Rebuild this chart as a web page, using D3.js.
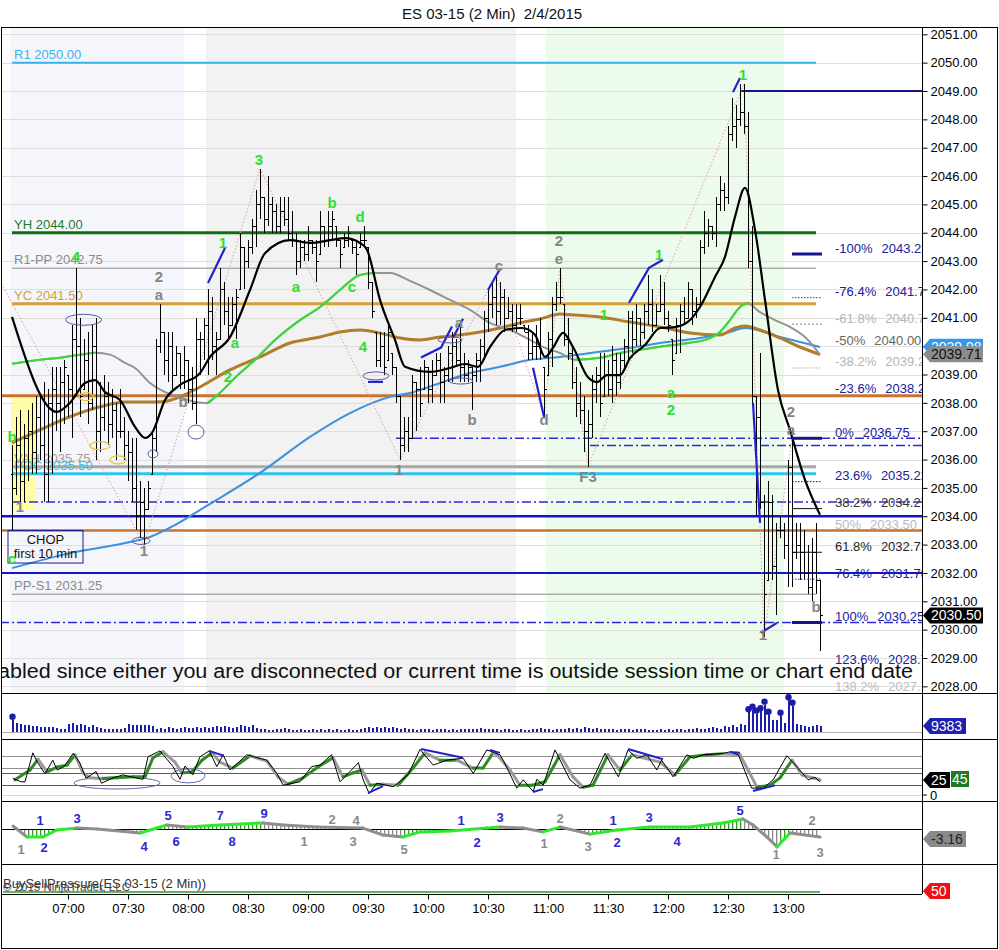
<!DOCTYPE html>
<html><head><meta charset="utf-8">
<script src="https://cdn.jsdelivr.net/npm/d3@7"></script>
<style>
body{margin:0;background:#fff;}
svg{display:block;font-family:"Liberation Sans",Arial,sans-serif;}
</style></head><body>
<svg id="c" width="999" height="950"></svg>
<script>
// ---------------- DATA ----------------
const chartTitle = "ES 03-15 (2 Min)\u00a0\u00a02/4/2015";
const firstBarTime = "06:32", barMinutes = 2, firstOpen = 2035.5;
const timeTicks = ["07:00","07:30","08:00","08:30","09:00","09:30","10:00","10:30","11:00","11:30","12:00","12:30","13:00"];
const priceTicks = [2028,2029,2030,2031,2032,2033,2034,2035,2036,2037,2038,2039,2040,2041,2042,2043,2044,2045,2046,2047,2048,2049,2050,2051];

const barHigh = [
2036.5,2037.5,2037.75,2037.25,2037.75,2038,2038.25,2038.25,2038.75,2038.5,
2039.25,2039.25,2039.25,2039.5,2039,2040.75,2042.75,2041,2040.25,2040.5,
2040.75,2041,2038.75,2039,2038.75,2038.5,2038,2038.5,2037.5,2037,
2036.75,2036.75,2035.25,2035,2035.25,2037,2040.25,2041.5,2040.5,2040.5,
2040.5,2040,2039.75,2040,2039.5,2039.25,2041,2040.5,2041,2042,
2041.75,2040.5,2042.75,2042.25,2041.75,2041.75,2042,2044,2043.5,2043.75,
2044.5,2045.5,2046.25,2045.25,2046,2045.25,2045,2045.25,2045.25,2045.25,
2044.75,2044,2043.75,2043.75,2044.25,2043.75,2043.75,2044.75,2044.25,2044.75,
2044.75,2044.25,2043.75,2044,2044.25,2043.75,2043.75,2044,2044.25,2043.5,
2042.25,2040.5,2040.5,2040.5,2040.75,2039.75,2039.25,2038.25,2037.5,2037.5,
2039,2038.75,2039.25,2039.5,2039.25,2039.5,2039.75,2039.75,2039.25,2040,
2040.5,2040.25,2040.75,2039.75,2039.5,2039.25,2039.75,2040.25,2041.25,2042,
2042.25,2042.5,2042.25,2042,2041.75,2041.5,2041.5,2041.5,2040.75,2040.75,
2040.5,2040.75,2041,2039.25,2040.5,2041.75,2042.25,2042.75,2041.5,2041,
2040,2039.25,2038.75,2038.25,2037.75,2039,2039.25,2039.75,2039.75,2039.5,
2040,2039.75,2039.75,2040.25,2041.25,2041.25,2041.5,2041,2041.5,2042.5,
2042,2041.5,2042.5,2042.25,2041.25,2040.25,2041,2041.5,2041.75,2042.25,
2042,2041.75,2043.75,2044.75,2044.5,2044.25,2045.25,2046,2045.75,2047.75,
2048.75,2048.5,2049.25,2049.25,2048.25,2044.25,2038.25,2039.75,2034.75,2035.25,
2034.75,2033.75,2034,2033.75,2036,2036.75,2033.75,2033.75,2033.5,2033,
2033.25,2033.75,2031.75];
const barLow = [
2033.5,2034.75,2034.5,2034.5,2035.25,2035.5,2035.5,2036,2034.5,2034.5,
2035.5,2037,2036.25,2037.25,2037.5,2036.75,2038.25,2037.5,2038.5,2037.25,
2037.75,2036,2036.25,2037,2036.5,2036.75,2036,2036.75,2036,2035.25,
2034.5,2033.5,2033.25,2033,2034.25,2035.5,2036.25,2039.75,2039,2038.75,
2038.5,2039,2038.5,2038.5,2038,2037.75,2037.25,2039,2039.5,2039,
2039.5,2039,2040.25,2040.75,2040.25,2040.75,2040.25,2042,2042,2042.75,
2043.25,2043.5,2044.5,2044,2044.25,2044,2044,2044,2044.25,2043.75,
2043.5,2042.5,2042.75,2043,2043,2043.25,2042.25,2043.25,2043.5,2043.5,
2043.75,2043.5,2042.75,2043.5,2043.5,2043.25,2042.5,2043.5,2043.5,2042,
2041,2039.25,2039.25,2039,2039.5,2039,2038,2036,2036.25,2036.25,
2036.75,2037,2037.5,2038.5,2038,2038,2039,2038,2038,2038.75,
2038.75,2039.25,2038.75,2038.75,2038.75,2037.75,2038.75,2038.75,2039.5,2040.5,
2041,2040.75,2040.75,2040.5,2041,2040.5,2040.5,2040.75,2040.5,2039.5,
2039.5,2039.5,2039.5,2037.5,2039,2039.25,2041.25,2041.5,2040,2039.5,
2038.5,2037.5,2037.25,2036.25,2035.75,2036.75,2038,2037.5,2038.25,2038.25,
2038,2038.25,2038.5,2039.25,2039.5,2039.75,2040,2040,2040.25,2040.75,
2040.5,2040.75,2041.25,2040.75,2040.5,2039,2039.75,2039.75,2040.75,2041,
2040.75,2041,2041.5,2043.25,2043.5,2043.75,2043.5,2044.75,2044.75,2045,
2047.25,2047,2047.75,2047.5,2042.75,2038,2034,2034.25,2029.75,2031.75,
2031.75,2030.5,2033.25,2032.5,2031.5,2031.5,2032.5,2031.75,2031.75,2031.25,
2031,2031.25,2029.25];
const barClose = [
2035,2036.5,2035.25,2036.75,2037,2036.25,2037.5,2036.5,2035.5,2038,
2038.5,2038,2038.75,2039.25,2038.5,2040.25,2040,2038.25,2039.5,2038,
2040,2037,2037.5,2038.25,2037.25,2037.75,2037,2037,2036.5,2036.25,
2035,2034,2034.5,2034.25,2035,2036.75,2040,2040.5,2039.5,2040,
2039,2039.75,2039,2039.5,2038.5,2038,2040.25,2040.25,2040.75,2041.25,
2040,2040.25,2042,2041.25,2040.75,2041.5,2041.75,2043.5,2043,2043.5,
2044.25,2045,2045.25,2044.5,2045,2044.75,2044.25,2044.75,2044.5,2044,
2043.75,2043,2043.5,2043.25,2043.75,2043.5,2043,2044.25,2043.75,2044.25,
2044.5,2043.75,2043.25,2043.75,2044,2043.5,2043.25,2043.75,2043.75,2042.25,
2041.25,2039.5,2040,2039.25,2040.5,2039.25,2038.25,2036.5,2037,2036.75,
2038.75,2038.5,2038,2039.25,2038.5,2039,2039.5,2038.75,2039,2039.75,
2040,2039.5,2039.25,2039,2039.25,2039,2039.5,2040,2041,2041.5,
2041.75,2041.25,2041.75,2041,2041.25,2040.75,2041,2041,2040.5,2039.75,
2040,2040,2039.75,2038.5,2040.25,2041.5,2041.75,2041.75,2040.25,2039.75,
2038.75,2038,2037.75,2037,2037.25,2038.5,2039,2038,2039,2038.5,
2039.5,2038.75,2039.5,2040,2041,2040.25,2041,2040.5,2041.25,2041.5,
2040.75,2041.25,2041.5,2041,2040.75,2039.5,2040.75,2041.25,2041,2042,
2041.25,2041.5,2043.5,2044,2044.25,2044,2045,2045.5,2045.25,2047.5,
2047.75,2048,2048.25,2047.75,2043,2038.25,2037.5,2034.5,2031.25,2034.5,
2032.25,2033.5,2033.5,2033,2035.75,2032.75,2033,2032.75,2032,2031.5,
2032.75,2031.75,2030.5];
const volume = [
19200,14000,13000,11500,10400,9400,8800,7800,7300,7300,
8300,6200,5200,4200,13000,14600,11400,13000,11400,7800,
10400,7800,6200,5200,4200,4200,5200,5200,6200,13000,
11400,10400,11400,10400,11400,9400,5200,6200,4200,7800,
6200,5200,6200,7800,6200,6200,7800,6200,7300,6200,
7800,9400,7300,9400,7800,6200,7300,10400,9400,7800,
10400,6200,5200,4200,3100,3100,4200,5200,6200,4200,
3100,3100,4200,3100,3100,4200,3100,4200,3100,4200,
3100,4200,3100,3100,4200,3100,3100,5200,6200,7300,
6200,7300,6200,7300,6200,7300,6200,5200,6200,4200,
4200,3100,4200,4200,5200,3100,4200,4200,4200,3100,
4200,3100,4200,4200,5200,4200,5200,6200,5200,4200,
4200,4200,3100,4200,4200,3100,3100,4200,3100,3100,
5200,4200,6200,4200,5200,3100,4200,5200,4200,6200,
5200,6200,5200,7300,6200,5200,6200,4200,5200,4200,
4200,3100,4200,5200,4200,3100,4200,4200,5200,3100,
3100,3100,4200,3100,5200,3100,4200,4200,3100,5200,
4200,6200,5200,4200,6200,8300,6200,5200,9400,8300,
11400,8300,12500,10400,30800,34900,28700,32400,42700,27000,
19000,19000,25500,14000,49600,41000,12500,10400,9400,8300,
9400,10400,9383];
const volDotBars = [0,184,185,186,187,188,189,192,194,195];

// moving averages: [bar index, price]
const fastMA = [[0,2041.03],[11.25,2037.68],[14.5,2038.0],[18.25,2038.7],[20.75,2038.8],[23.25,2038.38],[27,2038.1],[30.75,2037.15],[33.25,2036.76],[35,2036.94],[38.25,2038.1],[42,2038.63],[47,2039.05],[49.5,2039.62],[54.5,2040.32],[59.5,2041.98],[63.25,2043.28],[69.5,2043.74],[74.5,2043.64],[79.5,2043.74],[83.25,2043.81],[87,2043.64],[88.75,2043.4],[92,2041.63],[95.75,2040.22],[98.25,2039.27],[104.5,2039.09],[109.5,2039.23],[113.25,2039.37],[116.5,2039.27],[119.5,2039.97],[123.25,2040.57],[127.5,2040.64],[130.75,2040.4],[133.25,2039.62],[135.25,2039.94],[137.75,2040.47],[140.25,2039.97],[144,2038.9],[146.25,2038.73],[148.75,2038.98],[152,2038.98],[154.5,2039.58],[158.25,2040.04],[162,2040.64],[165.75,2040.67],[169.5,2040.92],[172,2041.38],[175.75,2042.44],[178.25,2043.15],[180.75,2044.56],[183.25,2045.58],[185.75,2044.1],[188.25,2041.63],[191.5,2038.45],[194.5,2037.04],[198.25,2035.28],[202,2034.05]];
const midMA = [[0,2039.38],[7,2039.52],[12,2039.59],[17,2039.7],[20.75,2039.77],[24.5,2039.7],[28.25,2039.41],[30.75,2039.23],[34.5,2038.7],[38.25,2038.38],[42,2038.2],[45.75,2038.03],[48.75,2037.99],[50.75,2038.2],[57,2039.05],[60.75,2039.52],[65.75,2040.22],[72,2040.92],[77,2041.38],[82,2041.98],[87,2042.51],[90.75,2042.58],[94.5,2042.58],[99.5,2042.3],[104.5,2041.98],[109.5,2041.63],[114.5,2041.28],[119.5,2040.82],[124.5,2040.57],[129.5,2040.22],[133.25,2039.94],[137,2039.76],[140.75,2039.52],[147,2039.59],[152,2039.76],[157,2039.87],[162,2039.98],[169.5,2040.12],[173.25,2040.22],[177,2040.5],[179.5,2040.92],[182,2041.38],[183.75,2041.52],[187,2041.2],[190.75,2040.92],[194.5,2040.68],[198.25,2040.32],[202,2039.7]];
const midMARising = [[0,20.75],[48.75,90.75],[140.75,183.75]];
const slowMA = [[0,2036.59],[7,2037.05],[14.5,2037.51],[22,2037.86],[28.25,2038.03],[34.5,2038.03],[38.25,2038.05],[42,2038.21],[47,2038.56],[54.5,2039.16],[62,2039.62],[69.5,2040.11],[77,2040.32],[82,2040.5],[87,2040.57],[92,2040.46],[97,2040.29],[102,2040.22],[107,2040.32],[112,2040.39],[117,2040.5],[122,2040.64],[127,2040.82],[132,2040.96],[137,2041.13],[140.75,2041.1],[147,2041.03],[154.5,2040.85],[162,2040.68],[169.5,2040.46],[177,2040.39],[180.75,2040.64],[183.25,2040.71],[187,2040.57],[192,2040.29],[197,2039.97],[202,2039.7]];
const vwapLine = [[0,2032.17],[14.5,2032.7],[29.5,2033.09],[34.5,2033.27],[40.75,2033.69],[48.25,2034.33],[62,2035.53],[74.5,2036.8],[84.5,2037.64],[94.5,2038.21],[99.5,2038.35],[107,2038.7],[114.5,2039.05],[122,2039.27],[129.5,2039.52],[137,2039.62],[147,2039.8],[154.5,2039.94],[162,2040.11],[172,2040.29],[179.5,2040.5],[183.25,2040.64],[192,2040.32],[202,2039.97]];

// levels
const namedLevelText = ["R1 2050.00","YH 2044.00","R1-PP 2042.75","YC 2041.50","VAH 2035.75","POC 2035.50","PP-S1 2031.25"];
const namedLevelValue = [2050.00,2044.00,2042.75,2041.50,2035.75,2035.50,2031.25];
const namedLevelSpan = ["06:32","13:14"];
const srValue = [2038.25,2036.75,2036.50,2034.50,2034.00,2033.50,2032.00,2030.25,2049.00];
const srStart = ["06:26","09:44","11:21","06:32","06:26","06:26","06:26","06:26","12:36"];
const srEnd = "14:07";

const fibPct = ["-100%","-76.4%","-61.8%","-50%","-38.2%","-23.6%","0%","23.6%","38.2%","50%","61.8%","76.4%","100%","123.6%","138.2%"];
const fibValue = [2043.25,2041.71,2040.77,2040.00,2039.23,2038.28,2036.75,2035.22,2034.27,2033.50,2032.73,2031.78,2030.25,2028.72,2027.77];
const fibSpan = ["13:02","13:17"];

const zigzag = [[-3,2042.3],[33,2033.0],[62,2046.25],[97,2036.0],[121,2042.5],[133,2037.5],[137,2042.75],[144,2035.75],[183,2049.25],[188,2029.75],[195,2036.75]];
const greenLabels = [["4",16,2043.15],["1",52.75,2043.64],["3",61.75,2046.57],["a",55.75,2040.11],["2",54,2038.91],["a",71,2042.09],["b",80,2045.05],["d",87,2044.56],["c",85,2042.09],["4",87.75,2039.98],["b",0,2036.8],["1",148,2041.1],["1",161.75,2043.22],["1",182.75,2049.57],["a",164.75,2038.36],["2",164.75,2037.76],["c",0,2032.5]];
const grayLabels = [["2",36.75,2042.45],["a",36.75,2041.82],["b",42.75,2038.05],["1",33,2032.8],["1",2,2034.33],["1",96.75,2035.63],["b",115,2037.4],["a",111.75,2040.82],["c",121.75,2042.83],["d",133,2037.4],["2",136.75,2043.71],["e",136.75,2043.07],["F3",144,2035.38],["2",194.75,2037.68],["a",194.75,2037.04],["b",201,2030.8],["1",187.75,2029.82]];
const trendLines = [[[49,2042.23],[53.25,2043.46]],[[102.25,2039.6],[107.25,2039.95],[110,2040.69]],[[110.25,2040.3],[112.75,2040.97]],[[119,2041.98],[122,2042.72]],[[130.25,2039.24],[133,2037.51]],[[154.25,2041.53],[159.25,2042.76],[162.75,2043.05]],[[180.25,2048.96],[182,2049.46]],[[185.25,2038.0],[187,2033.77]],[[187.25,2029.89],[191.25,2030.24]],[[89,2038.74],[92.75,2038.74]]];
const swingEllipses = [[17.9,2040.93,18,5.5],[35.25,2036.2,5,4],[46,2036.97,8,7],[32.25,2033.13,9,3.5],[91,2038.95,13,4],[109.5,2040.22,12,3],[112.25,2038.77,12,3]];
const yellowEllipses = [[18.5,2038.22,7,4],[22,2036.49,10,4],[26.5,2035.99,8,4]];
const chopBox = {bars:[-1,17.75], prices:[2033.5,2032.35], lines:["CHOP","first 10 min"]};
const openRange = {bars:[0,6], prices:[2038.21,2034.22]};
const sessions = [["06:31","07:58"],["08:09","10:44"],["10:59","12:58"]];
const messageText = "abled since either you are disconnected or current time is outside session time or chart end date";
const lastPrices = [2039.98, 2039.71, 2030.50];

// stochastics [bar, value]
const stochLevels = [80,55,45,20,0];
const stochFast = [[0.2,34],[2.2,27],[3.25,27],[5.2,86],[6.3,68],[8.25,43],[10.2,71],[11.3,51],[13,58],[15.3,85],[17,65],[18.5,34],[21,48],[22.4,24],[25.25,35],[27.75,41],[30.25,36],[32.75,32],[34,78],[37,90],[40.25,58],[42,32],[43.25,59],[45.2,41],[47,78],[49.3,90],[51.2,58],[52.8,82],[54.5,51],[58.7,82],[63.7,71],[66.2,44],[67.8,20],[72,27],[74.9,58],[77,61],[79.9,82],[82,27],[83.7,41],[86.6,66],[87.8,31],[89.3,3],[91.2,24],[95.3,17],[99,41],[102,93],[105.3,61],[108.7,71],[112.8,75],[115.3,44],[118.7,92],[122,82],[122.8,71],[126.2,14],[127.8,31],[130.3,7],[131.2,32],[132.8,20],[135.75,92],[139.5,31],[142,14],[144.5,20],[148.25,85],[151.6,37],[154,92],[156.2,75],[158.7,82],[161.2,51],[162.4,71],[165.3,37],[168.7,82],[170.3,75],[172.8,82],[177.8,85],[179.5,88],[181.6,82],[184.9,14],[187.8,14],[190.3,31],[193.7,80],[196.2,58],[199,31],[200.75,36],[202,27]];
const stochSlow = [[0.75,31],[4.5,51],[6.5,73],[8.75,47],[11.25,57],[13.75,61],[15.75,82],[17.75,45],[19.5,35],[22.75,33],[26.25,35],[30.25,37],[33.25,37],[35.25,76],[37.75,88],[40.75,67],[42.5,45],[45,47],[47.5,71],[50,86],[52,67],[55.25,55],[59.5,80],[63.75,69],[66.5,37],[69,22],[72.75,35],[76.5,57],[80.25,76],[82.75,37],[85.25,45],[87.5,51],[89.5,20],[92.75,22],[96.5,20],[100.25,55],[103.25,86],[107,71],[111.25,71],[115.25,55],[117.75,55],[120.25,86],[121.25,82],[124.5,51],[127,20],[130,20],[133.25,27],[137,82],[140.25,37],[142.75,16],[145.25,20],[149,82],[152,51],[155,82],[157.75,76],[162,67],[165.75,41],[169.5,78],[173.75,82],[177.75,84],[182,82],[184,51],[186.25,16],[189.5,20],[192,35],[195,71],[197.5,41],[200.25,35],[202,31]];
const stochDivergence = [[[49.25,90],[53,80]],[[89,4],[92.75,18]],[[102.25,94],[112.75,76]],[[119.5,92],[122,86]],[[130.25,6],[132.75,12]],[[154,94],[162.75,73]],[[179.5,88],[182,86]],[[185.25,8],[190.75,20]]];
const stochEllipses = [[26.25,24.5,43,6],[44,39,17,7]];

// momentum oscillator [bar, value]
const macdLine = [[0.25,0.94],[3.75,-2.5],[7.75,-2.5],[11.25,-0.3],[16.25,0.3],[21.25,0],[32,-1.25],[36.25,0.3],[38.75,1.25],[43.75,0.6],[52,1.25],[62.75,1.9],[67.75,1.25],[76.25,0.6],[87.75,0.3],[92.75,-1.9],[97.75,-2.5],[102,-0.9],[109.5,-0.6],[118.75,0.3],[122,0.6],[127.75,0.3],[132.75,-0.9],[137,0.6],[144.5,-1.6],[151.25,-0.3],[159.5,0.6],[169.5,0.6],[177.75,1.9],[182.75,3.1],[185.25,1.25],[188.75,-2.5],[191.25,-5.6],[194.5,-1.25],[202,-2.5]];
const waveBlue = [["1",7,2.8],["2",8,-5.9],["3",16.25,3.4],["4",33,-5.6],["5",39,4.1],["6",41,-3.75],["7",52,4.1],["8",55,-3.75],["9",63,5],["1",112.25,2.8],["2",116.25,-4.1],["3",122,3.75],["1",150.25,2.8],["2",151.25,-4.1],["3",159.25,3.75],["4",166.25,-3.75],["5",182,5.9]];
const waveGray = [["1",2.25,-6.25],["1",73,-3.75],["2",80,3.1],["4",86,2.8],["3",85.25,-3.75],["5",98,-6.25],["2",137,3.4],["1",133,-4.4],["3",144,-5.3],["1",191,-8.1],["2",200,2.8],["3",202,-7.2]];
const panelTags = {volume:"9383", stochK:"25", stochD:"45", osc:"-3.16", bsp:"50"};
const bspTitle = "BuySellPressure(ES 03-15 (2 Min))", copyright = "\u00a9 2015 NinjaTrader, LLC";

// ---------------- SCALES ----------------
const svg = d3.select("#c");
const parse = d3.timeParse("%H:%M");
const xT = d3.scaleTime().domain([parse("07:00"), parse("13:00")]).range([68, 788]);
const t0 = parse(firstBarTime);
const bx = i => xT(new Date(t0.getTime() + i * barMinutes * 60000));
const tx = s => xT(parse(s));
const y = d3.scaleLinear().domain([2028, 2051]).range([686.35, 34.3]);
const yVol = d3.scaleLinear().domain([0, 50000]).range([732, 700]);
const ySt = d3.scaleLinear().domain([0, 100]).range([795, 746]);
const yOsc = d3.scaleLinear().domain([-10, 10]).range([861, 797]);

const defs = svg.append("defs");
defs.append("clipPath").attr("id","mainClip").append("rect").attr("x",2).attr("y",27.5).attr("width",920).attr("height",665);
defs.append("clipPath").attr("id","stClip").append("rect").attr("x",2).attr("y",740).attr("width",920).attr("height",61);
defs.append("clipPath").attr("id","oscClip").append("rect").attr("x",2).attr("y",802).attr("width",920).attr("height",62);
function stripe(id, color){
  const p = defs.append("pattern").attr("id",id).attr("patternUnits","userSpaceOnUse").attr("width",4).attr("height",4);
  p.append("rect").attr("x",0).attr("y",0).attr("width",1.3).attr("height",4).attr("fill",color);
}
stripe("stG","#3a9a2a"); stripe("stR","#8c8c8c");

// ---------------- MAIN PANEL ----------------
const main = svg.append("g").attr("clip-path","url(#mainClip)");
const shadeCol = ["#f4f6fb","#f2f2f2","#edfbed"];
sessions.forEach((s,k)=>{
  main.append("rect").attr("x",tx(s[0])).attr("y",27).attr("width",tx(s[1])-tx(s[0])).attr("height",666).attr("fill",shadeCol[k]);
});
priceTicks.forEach(p=>{
  main.append("line").attr("x1",0).attr("x2",922).attr("y1",Math.round(y(p))+0.5).attr("y2",Math.round(y(p))+0.5).attr("stroke","#dedede").attr("stroke-width",1);
});
main.append("rect").attr("x",bx(openRange.bars[0])).attr("y",y(openRange.prices[0])).attr("width",bx(openRange.bars[1])-bx(openRange.bars[0])).attr("height",y(openRange.prices[1])-y(openRange.prices[0])).attr("fill","#ffff99").attr("opacity",0.85);

// named levels
const namedStyle = [["#35b6ea",2,"#3cb4e6"],["#0f6f0f",3,"#2a7a2a"],["#8a8a8a",1,"#8a8a8a"],["#d4a033",3,"#d4a033"],["#a8a8a8",3,"#a0a0a0"],["#2ec4ee",3,"#3cbfe6"],["#8a8a8a",1,"#8a8a8a"]];
namedLevelValue.forEach((v,k)=>{
  main.append("line").attr("x1",tx(namedLevelSpan[0])).attr("x2",tx(namedLevelSpan[1])).attr("y1",y(v)).attr("y2",y(v)).attr("stroke",namedStyle[k][0]).attr("stroke-width",namedStyle[k][1]);
});
const srStyle = [["#c8732f",3,null],["#2a2ad8",1.5,"9,3,2,3"],["#2a2ad8",1.5,"9,3,2,3"],["#2a2ad8",1.5,"9,3,2,3"],["#1414c8",2.5,null],["#c8732f",2.5,null],["#1414c8",2,null],["#2a2ad8",1.5,"9,3,2,3"],["#14148c",2,null]];
srValue.forEach((v,k)=>{
  main.append("line").attr("x1",tx(srStart[k])).attr("x2",tx(srEnd)).attr("y1",y(v)).attr("y2",y(v)).attr("stroke",srStyle[k][0]).attr("stroke-width",srStyle[k][1]).attr("stroke-dasharray",srStyle[k][2]);
});
namedLevelValue.forEach((v,k)=>{
  main.append("text").attr("x",14).attr("y",y(v)-4).attr("font-size",13).attr("fill",namedStyle[k][2]).text(namedLevelText[k]);
});

// moving averages
const ln = d3.line().x(d=>bx(d[0])).y(d=>y(d[1])).curve(d3.curveMonotoneX);
main.append("path").attr("d",ln(vwapLine)).attr("fill","none").attr("stroke","#3d8fe0").attr("stroke-width",2);
main.append("path").attr("d",ln(slowMA)).attr("fill","none").attr("stroke","#b07d2a").attr("stroke-width",3);
main.append("path").attr("d",ln(midMA)).attr("fill","none").attr("stroke","#939393").attr("stroke-width",2);
midMARising.forEach(r=>{
  main.append("path").attr("d",ln(midMA.filter(d=>d[0]>=r[0]&&d[0]<=r[1]))).attr("fill","none").attr("stroke","#33dd33").attr("stroke-width",2);
});

// zigzag
main.append("path").attr("d",d3.line().x(d=>bx(d[0])).y(d=>y(d[1]))(zigzag)).attr("fill","none").attr("stroke","#e59a9a").attr("stroke-width",1).attr("stroke-dasharray","1.5,2");

// OHLC bars
const bars = main.append("g").attr("stroke","#000").attr("stroke-width",1).attr("shape-rendering","crispEdges");
barHigh.forEach((h,i)=>{
  const l = barLow[i], c = barClose[i];
  const o = Math.max(l, Math.min(h, i===0 ? firstOpen : barClose[i-1]));
  const xx = Math.round(bx(i)) + 0.5;
  bars.append("line").attr("x1",xx).attr("x2",xx).attr("y1",y(h)).attr("y2",y(l));
  bars.append("line").attr("x1",xx-2).attr("x2",xx).attr("y1",Math.round(y(o))+0.5).attr("y2",Math.round(y(o))+0.5);
  bars.append("line").attr("x1",xx).attr("x2",xx+2).attr("y1",Math.round(y(c))+0.5).attr("y2",Math.round(y(c))+0.5);
});

main.append("path").attr("d",ln(fastMA)).attr("fill","none").attr("stroke","#000").attr("stroke-width",2.2);

// annotations
const lnL = d3.line().x(d=>bx(d[0])).y(d=>y(d[1]));
trendLines.forEach(t=>{
  main.append("path").attr("d",lnL(t)).attr("fill","none").attr("stroke","#2222cc").attr("stroke-width",2.2);
});
swingEllipses.forEach(e=>{
  main.append("ellipse").attr("cx",bx(e[0])).attr("cy",y(e[1])).attr("rx",e[2]).attr("ry",e[3]).attr("fill","none").attr("stroke","#5b5b9e").attr("stroke-width",1);
});
yellowEllipses.forEach(e=>{
  main.append("ellipse").attr("cx",bx(e[0])).attr("cy",y(e[1])).attr("rx",e[2]).attr("ry",e[3]).attr("fill","none").attr("stroke","#e6c83a").attr("stroke-width",1.3);
});
main.append("rect").attr("x",bx(chopBox.bars[0])).attr("y",y(chopBox.prices[0])).attr("width",bx(chopBox.bars[1])-bx(chopBox.bars[0])).attr("height",y(chopBox.prices[1])-y(chopBox.prices[0])).attr("fill","none").attr("stroke","#1c1c8c").attr("stroke-width",1);
chopBox.lines.forEach((t,k)=>{
  main.append("text").attr("x",(bx(chopBox.bars[0])+bx(chopBox.bars[1]))/2).attr("y",y(chopBox.prices[0])+14+k*14).attr("text-anchor","middle").attr("font-size",13).attr("fill","#111").text(t);
});
greenLabels.forEach(g=>{
  main.append("text").attr("x",bx(g[1])).attr("y",y(g[2])).attr("dy","0.35em").attr("text-anchor","middle").attr("font-size",15).attr("font-weight","bold").attr("fill","#2ee02e").text(g[0]);
});
grayLabels.forEach(g=>{
  main.append("text").attr("x",bx(g[1])).attr("y",y(g[2])).attr("dy","0.35em").attr("text-anchor","middle").attr("font-size",15).attr("font-weight","bold").attr("fill","#858585").text(g[0]);
});

// fib short lines + labels
const fibLineStyle = [["#14148c",3,null],["#2a2ad8",1,"1.5,1.5"],["#aaaaaa",1.5,"2,2"],null,["#aaaaaa",1,"1.5,1.5"],null,["#14148c",3,null],["#111",1,"1.5,1.5"],["#111",1,null],null,["#111",1,null],["#2a2ad8",1,"1.5,1.5"],["#14148c",3,null],null,null];
const fibColor = ["#20209a","#20209a","#b4b4b4","#666","#b4b4b4","#20209a","#20209a","#20209a","#333","#bbbbbb","#222","#20209a","#20209a","#20209a","#bbbbbb"];
fibValue.forEach((v,k)=>{
  const st = fibLineStyle[k];
  if(st) main.append("line").attr("x1",tx(fibSpan[0])).attr("x2",tx(fibSpan[1])).attr("y1",y(v)).attr("y2",y(v)).attr("stroke",st[0]).attr("stroke-width",st[1]).attr("stroke-dasharray",st[2]);
  const t1 = main.append("text").attr("x",835).attr("y",y(v)-1.5).attr("font-size",13).attr("fill",fibColor[k]).text(fibPct[k]);
  const w = t1.node().getComputedTextLength();
  main.append("text").attr("x",835+w+9).attr("y",y(v)-1.5).attr("font-size",13).attr("fill",fibColor[k]).text(d3.format(".2f")(v));
});

// message
main.append("text").attr("x",-2).attr("y",678).attr("font-size",19.5).attr("fill","#111").attr("textLength",915).attr("lengthAdjust","spacingAndGlyphs").text(messageText);

// ---------------- VOLUME ----------------
svg.append("line").attr("x1",2).attr("x2",922).attr("y1",732.5).attr("y2",732.5).attr("stroke","#b0b0b0");
const vg = svg.append("g").attr("shape-rendering","crispEdges");
volume.forEach((v,i)=>{
  vg.append("rect").attr("x",Math.round(bx(i))-0.5).attr("y",yVol(v)).attr("width",2).attr("height",732-yVol(v)).attr("fill","#1c1ca8");
});
volDotBars.forEach(i=>{
  svg.append("circle").attr("cx",Math.round(bx(i))+0.5).attr("cy",yVol(volume[i])-3).attr("r",3.2).attr("fill","#1c1ca8");
});

// ---------------- STOCHASTICS ----------------
const stColor = ["#909090","#909090","#2a7a2a","#2a7a2a","#d8d8d8"];
stochLevels.forEach((v,k)=>{
  svg.append("line").attr("x1",2).attr("x2",922).attr("y1",Math.round(ySt(v))+0.5).attr("y2",Math.round(ySt(v))+0.5).attr("stroke",stColor[k]).attr("stroke-width",1);
});
const sg = svg.append("g").attr("clip-path","url(#stClip)");
stochEllipses.forEach(e=>{
  sg.append("ellipse").attr("cx",bx(e[0])).attr("cy",ySt(e[1])).attr("rx",e[2]).attr("ry",e[3]).attr("fill","none").attr("stroke","#6a6aa8").attr("stroke-width",1);
});
for(let k=1;k<stochSlow.length;k++){
  const a=stochSlow[k-1], b=stochSlow[k];
  sg.append("line").attr("x1",bx(a[0])).attr("y1",ySt(a[1])).attr("x2",bx(b[0])).attr("y2",ySt(b[1])).attr("stroke",b[1]>=a[1]?"#2f8a24":"#9a9a9a").attr("stroke-width",3).attr("stroke-linecap","round");
}
sg.append("path").attr("d",d3.line().x(d=>bx(d[0])).y(d=>ySt(d[1]))(stochFast)).attr("fill","none").attr("stroke","#000").attr("stroke-width",1);
stochDivergence.forEach(t=>{
  sg.append("path").attr("d",d3.line().x(d=>bx(d[0])).y(d=>ySt(d[1]))(t)).attr("fill","none").attr("stroke","#2222cc").attr("stroke-width",2);
});

// ---------------- OSCILLATOR ----------------
const og = svg.append("g").attr("clip-path","url(#oscClip)");
for(let k=1;k<macdLine.length;k++){
  const a=macdLine[k-1], b=macdLine[k];
  const pts = [[bx(a[0]),yOsc(0)],[bx(a[0]),yOsc(a[1])],[bx(b[0]),yOsc(b[1])],[bx(b[0]),yOsc(0)]];
  og.append("path").attr("d","M"+pts.join("L")+"Z").attr("fill",b[1]>=a[1]?"url(#stG)":"url(#stR)");
}
og.append("line").attr("x1",2).attr("x2",922).attr("y1",yOsc(0)+0.5).attr("y2",yOsc(0)+0.5).attr("stroke","#000").attr("stroke-width",1);
for(let k=1;k<macdLine.length;k++){
  const a=macdLine[k-1], b=macdLine[k];
  og.append("line").attr("x1",bx(a[0])).attr("y1",yOsc(a[1])).attr("x2",bx(b[0])).attr("y2",yOsc(b[1])).attr("stroke",b[1]>=a[1]?"#2ee82e":"#8e8e8e").attr("stroke-width",3).attr("stroke-linecap","round");
}
waveBlue.forEach(w=>{
  og.append("text").attr("x",bx(w[1])).attr("y",yOsc(w[2])).attr("dy","0.35em").attr("text-anchor","middle").attr("font-size",13).attr("font-weight","bold").attr("fill","#2a2ad0").text(w[0]);
});
waveGray.forEach(w=>{
  og.append("text").attr("x",bx(w[1])).attr("y",yOsc(w[2])).attr("dy","0.35em").attr("text-anchor","middle").attr("font-size",13).attr("font-weight","bold").attr("fill","#8a8a8a").text(w[0]);
});

// ---------------- BSP panel ----------------
svg.append("line").attr("x1",3).attr("x2",bx(barHigh.length-1)).attr("y1",892).attr("y2",892).attr("stroke","#2a9a2a").attr("stroke-width",1.5);
svg.append("text").attr("x",3).attr("y",888).attr("font-size",13).attr("fill","#333").text(bspTitle);
svg.append("text").attr("x",3).attr("y",891).attr("font-size",11.5).attr("fill","#444").text(copyright);

// ---------------- FRAME & AXES ----------------
const frame = svg.append("g").attr("stroke","#000").attr("stroke-width",1).attr("shape-rendering","crispEdges");
[27,693,739,801,864].forEach(v=>frame.append("line").attr("x1",1).attr("x2",998).attr("y1",v+0.5).attr("y2",v+0.5));
frame.append("line").attr("x1",1).attr("x2",922).attr("y1",894.5).attr("y2",894.5);
frame.append("line").attr("x1",1).attr("x2",998).attr("y1",948.5).attr("y2",948.5);
frame.append("line").attr("x1",1.5).attr("x2",1.5).attr("y1",27).attr("y2",949);
frame.append("line").attr("x1",997.5).attr("x2",997.5).attr("y1",27).attr("y2",949);
frame.append("line").attr("x1",922.5).attr("x2",922.5).attr("y1",27).attr("y2",894);

const yAxis = svg.append("g").attr("transform","translate(922.5,0)")
  .call(d3.axisRight(y).tickValues(priceTicks).tickFormat(d3.format(".2f")).tickSize(5).tickPadding(3));
yAxis.select(".domain").remove();
yAxis.selectAll("text").attr("font-size",13).attr("font-family","Liberation Sans, Arial, sans-serif").attr("fill","#000");

const xAxis = svg.append("g").attr("transform","translate(0,894.5)")
  .call(d3.axisBottom(xT).tickValues(timeTicks.map(parse)).tickFormat(d3.timeFormat("%H:%M")).tickSize(5).tickPadding(4));
xAxis.select(".domain").remove();
xAxis.selectAll("text").attr("font-size",13).attr("font-family","Liberation Sans, Arial, sans-serif").attr("fill","#000");

svg.append("text").attr("x",402).attr("y",19).attr("font-size",15).attr("fill","#111").text(chartTitle);

// tags
function tag(cy, x2, fill, txt, tcol){
  svg.append("path").attr("d",`M923,${cy} L930,${cy-8} L${x2},${cy-8} L${x2},${cy+8} L930,${cy+8} Z`).attr("fill",fill);
  svg.append("text").attr("x",931).attr("y",cy+5).attr("font-size",14).attr("fill",tcol).text(txt);
}
tag(y(lastPrices[0]), 983, "#3399ee", d3.format(".2f")(lastPrices[0]), "#fff");
tag(y(lastPrices[1]), 983, "#8c8c8c", d3.format(".2f")(lastPrices[1]), "#111");
tag(y(lastPrices[2]), 983, "#000", d3.format(".2f")(lastPrices[2]), "#fff");
tag(yVol(+panelTags.volume), 966, "#2020b0", panelTags.volume, "#fff");
svg.append("line").attr("x1",922).attr("x2",927).attr("y1",ySt(0)).attr("y2",ySt(0)).attr("stroke","#000");
svg.append("text").attr("x",930).attr("y",ySt(0)+5).attr("font-size",13).text("0");
tag(780, 950, "#000", panelTags.stochK, "#fff");
svg.append("rect").attr("x",951).attr("y",771).attr("width",18).attr("height",16).attr("fill","#1e7b1e");
svg.append("text").attr("x",952).attr("y",784).attr("font-size",14).attr("fill","#fff").text(panelTags.stochD);
tag(839, 966, "#8a8a8a", panelTags.osc, "#222");
tag(891, 950, "#ee1111", panelTags.bsp, "#fff");
</script>
</body></html>
